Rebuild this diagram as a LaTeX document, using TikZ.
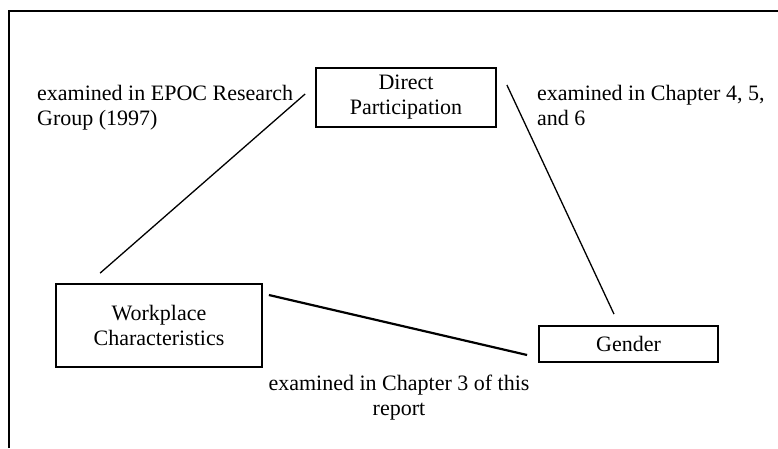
\documentclass[tikz,border=0pt]{standalone}
\usepackage{fontspec}
\setmainfont{Liberation Serif}
\begin{document}
\begin{tikzpicture}[x=1pt,y=-1pt,
  every node/.style={font=\fontsize{22}{25}\selectfont},
  boxnode/.style={draw,line width=1.8pt,align=center,inner sep=0pt},
  lbl/.style={align=left,inner sep=0pt},
  conn/.style={line width=1.3pt},
  thickconn/.style={line width=2.2pt}]
\useasboundingbox (0,0) rectangle (778,448);
% outer frame (right and bottom edges lie outside the picture)
\draw[line width=2.8pt] (9,448) -- (9,11) -- (778,11);
% boxes
\node[boxnode,minimum width=180pt,minimum height=59pt] (dp) at (406,97.5) {Direct\\Participation};
\node[boxnode,minimum width=206pt,minimum height=83pt] (wc) at (159,325.5) {Workplace\\Characteristics};
\node[boxnode,minimum width=179pt,minimum height=36pt] (g) at (628.5,344) {Gender};
% connectors
\draw[conn] ([shift={(45,-10)}]wc.north west) -- ([shift={(-10,-3.5)}]dp.west);
\draw[conn] ([shift={(10,-12.5)}]dp.east) -- ([shift={(-14.5,-11)}]g.north);
\draw[thickconn] ([shift={(6,-30.5)}]wc.east) -- ([shift={(-11,11)}]g.west);
% labels
\node[lbl,anchor=north west] (l1) at (37,85) {examined in EPOC Research\\Group (1997)};
\node[lbl,anchor=north west] (l2) at (537,85) {examined in Chapter 4, 5,\\and 6};
\node[lbl,align=center,anchor=north] (l3) at (399,375) {examined in Chapter 3 of this\\report};
\end{tikzpicture}
\end{document}
